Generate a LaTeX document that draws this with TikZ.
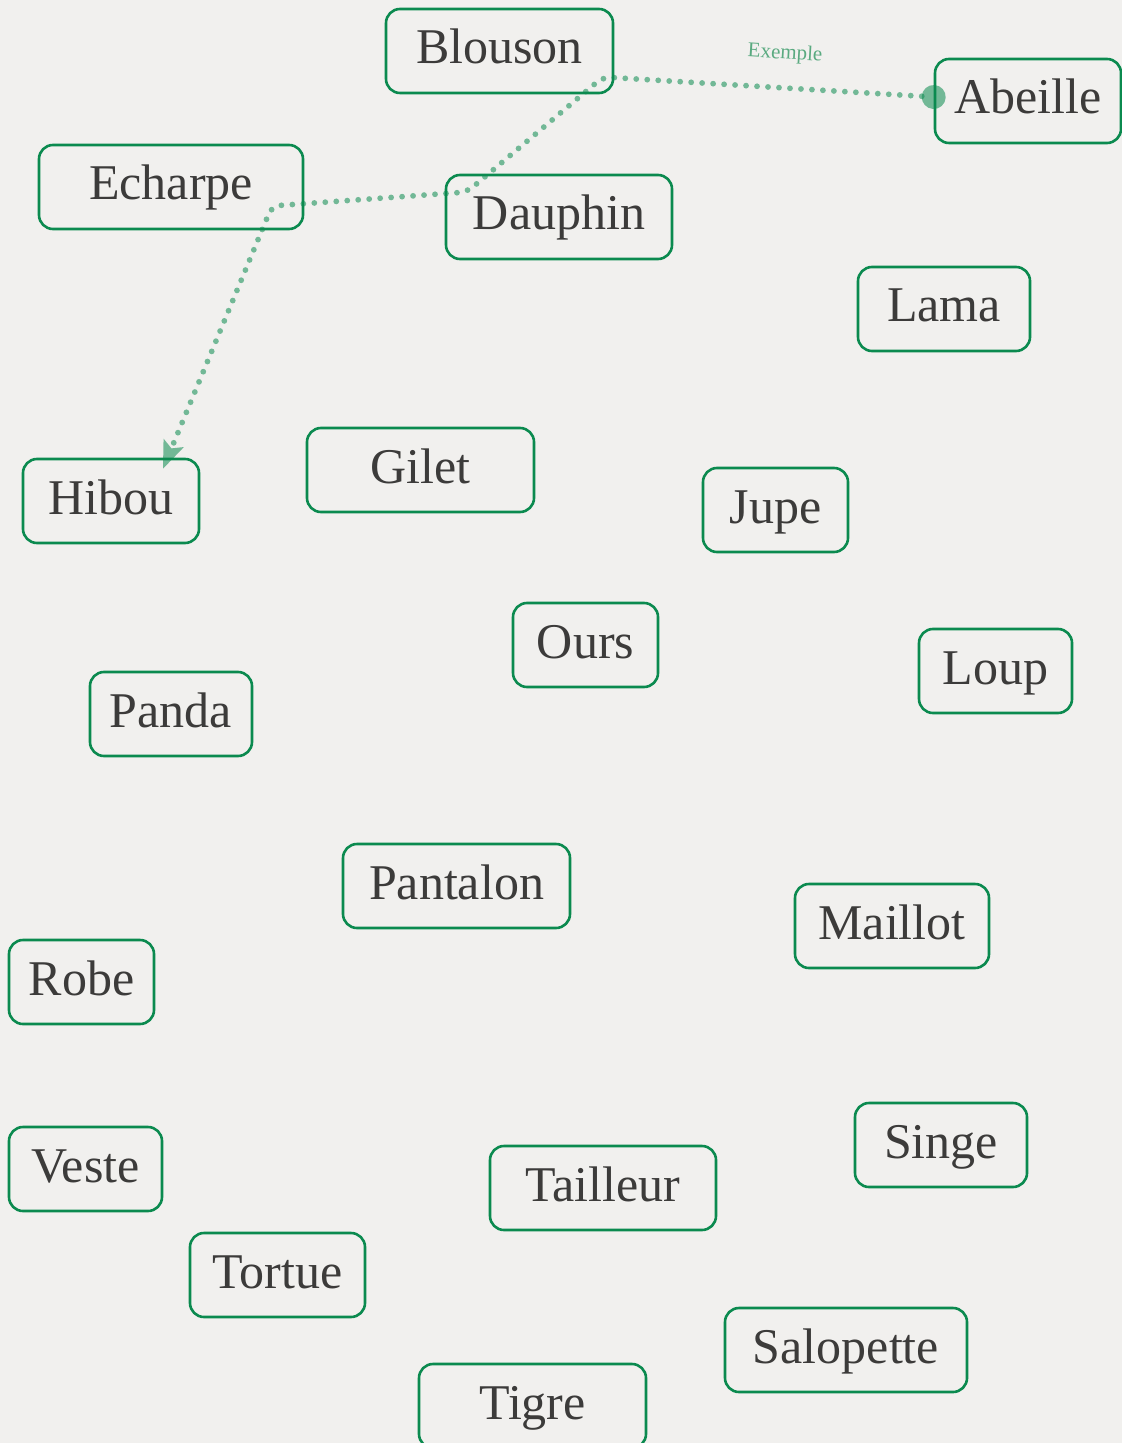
\documentclass[tikz,border=0pt]{standalone}
\usepackage{fontspec}
\setmainfont{Liberation Serif}
\usetikzlibrary{arrows.meta}
\definecolor{bg}{HTML}{F1F0EE}
\definecolor{boxgreen}{HTML}{0B8A4F}
\definecolor{txt}{HTML}{3C3B3A}
\definecolor{lblcol}{HTML}{5AAA80}
\begin{document}
\begin{tikzpicture}[x=0.5pt,y=-0.5pt,
  wbox/.style={draw=boxgreen, line width=1.3pt, rounded corners=7pt, fill=bg,
    text=txt, font=\fontsize{25}{30}\selectfont, minimum height=42pt,
    text height=18pt, text depth=5pt, inner sep=0pt, minimum width=#1},
  connline/.style={draw=boxgreen, draw opacity=0.55, fill opacity=0.55, line width=2.9pt, line cap=round,
    dash pattern=on 0pt off 5.5pt, rounded corners=4pt,
    {Circle[length=12pt,line width=0pt,fill=boxgreen]}-{Stealth[length=14pt,width=11pt,inset=3pt,line width=0pt,fill=boxgreen]}},
  lbl/.style={text=lblcol, font=\fontsize{10.5}{12}\selectfont, inner sep=0pt}
]
\fill[bg] (0,0) rectangle (1122,1443);
\useasboundingbox (0,0) rectangle (1122,1443);

\node[wbox=113.5pt] (blouson) at (499.5,51) {Blouson};
\node[wbox=93pt] (abeille) at (1028,101) {Abeille};
\node[wbox=132pt] (echarpe) at (171,187) {Echarpe};
\node[wbox=113pt] (dauphin) at (559,217) {Dauphin};
\node[wbox=86pt] (lama) at (944,309) {Lama};
\node[wbox=113.5pt] (gilet) at (420.5,470) {Gilet};
\node[wbox=88pt] (hibou) at (111,501) {Hibou};
\node[wbox=72.5pt] (jupe) at (775.5,510) {Jupe};
\node[wbox=72.5pt] (ours) at (585.5,645) {Ours};
\node[wbox=76.5pt] (loup) at (995.5,671) {Loup};
\node[wbox=81pt] (panda) at (171,714) {Panda};
\node[wbox=113.5pt] (pantalon) at (456.5,886) {Pantalon};
\node[wbox=97pt] (maillot) at (892,926) {Maillot};
\node[wbox=72.5pt] (robe) at (81.5,982) {Robe};
\node[wbox=76.5pt] (veste) at (85.5,1169) {Veste};
\node[wbox=86pt] (singe) at (941,1145) {Singe};
\node[wbox=113pt] (tailleur) at (603,1188) {Tailleur};
\node[wbox=87.5pt] (tortue) at (277.5,1275) {Tortue};
\node[wbox=121pt] (salopette) at (846,1350) {Salopette};
\node[wbox=113.5pt] (tigre) at (532.5,1406) {Tigre};

\coordinate (k1) at (603,77);
\coordinate (k2) at (467,192);
\coordinate (k3) at (272,206);
\draw[connline, shorten <=-6pt] ([yshift=2pt]abeille.west) -- (k1) -- (k2) -- (k3) -- ([xshift=26pt,yshift=-5.5pt]hibou.north);
\node[lbl, rotate=-3.4] (exemple) at (785,54) {Exemple};
\end{tikzpicture}
\end{document}
